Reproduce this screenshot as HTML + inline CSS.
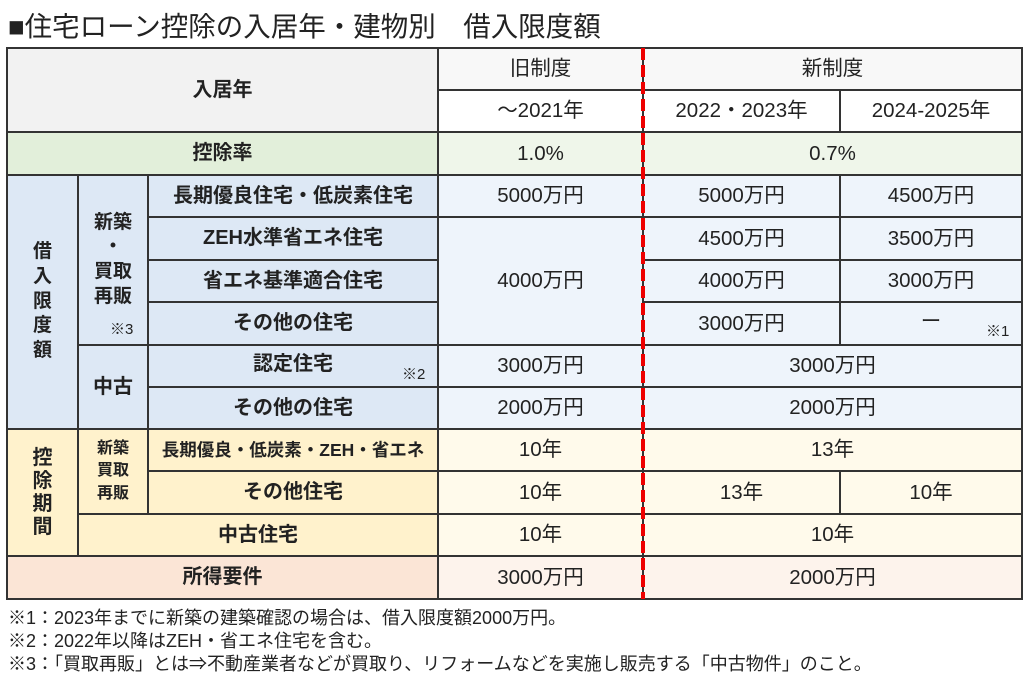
<!DOCTYPE html>
<html><head><meta charset="utf-8"><style>
body{margin:0;width:1024px;height:681px;background:#fff;position:relative;overflow:hidden;font-family:"Liberation Sans","Noto Sans CJK JP",sans-serif;color:#222}
.c{position:absolute;box-sizing:border-box;border:1px solid #333;display:flex;align-items:center;justify-content:center;font-size:20.5px;text-align:center;line-height:1.15}
.b{font-weight:bold;font-size:20px}
.g{background:#f2f2f2}.gr{background:#f8f8f8}
.gn{background:#e2efda}.gnr{background:#eff6ea}
.bl{background:#dde8f5}.blr{background:#eef4fb}
.y{background:#fff2cc}.yr{background:#fffaeb}
.p{background:#fbe5d6}.pr{background:#fdf3ec}
.note{position:absolute;font-size:15px}
.fn{position:absolute;left:8px;font-size:18px;white-space:nowrap}
</style></head><body>
<div style="position:absolute;left:8px;top:4px;font-size:27.5px;white-space:nowrap">■住宅ローン控除の入居年・建物別　借入限度額</div>

<div class="c b g" style="left:7px;top:48px;width:431px;height:84px">入居年</div>
<div class="c gr" style="left:438px;top:48px;width:205px;height:42px">旧制度</div>
<div class="c gr" style="left:643px;top:48px;width:379px;height:42px">新制度</div>
<div class="c" style="left:438px;top:90px;width:205px;height:42px">～2021年</div>
<div class="c" style="left:643px;top:90px;width:197px;height:42px">2022・2023年</div>
<div class="c" style="left:840px;top:90px;width:182px;height:42px">2024-2025年</div>

<div class="c b gn" style="left:7px;top:132px;width:431px;height:43px">控除率</div>
<div class="c gnr" style="left:438px;top:132px;width:205px;height:43px">1.0%</div>
<div class="c gnr" style="left:643px;top:132px;width:379px;height:43px">0.7%</div>

<div class="c b bl" style="left:7px;top:175px;width:71px;height:254px;font-size:19px;line-height:1.3">借<br>入<br>限<br>度<br>額</div>
<div class="c b bl" style="left:78px;top:175px;width:70px;height:170px;line-height:1.3;font-size:19px">新築<br>・<br>買取<br>再販</div>
<div class="note" style="left:110px;top:318px">※3</div>
<div class="c b bl" style="left:148px;top:175px;width:290px;height:42px">長期優良住宅・低炭素住宅</div>
<div class="c b bl" style="left:148px;top:217px;width:290px;height:43px">ZEH水準省エネ住宅</div>
<div class="c b bl" style="left:148px;top:260px;width:290px;height:42px">省エネ基準適合住宅</div>
<div class="c b bl" style="left:148px;top:302px;width:290px;height:43px">その他の住宅</div>
<div class="c b bl" style="left:78px;top:345px;width:70px;height:84px">中古</div>
<div class="c b bl" style="left:148px;top:345px;width:290px;height:42px;padding-bottom:4px">認定住宅</div>
<div class="note" style="left:402px;top:363px">※2</div>
<div class="c b bl" style="left:148px;top:387px;width:290px;height:42px">その他の住宅</div>

<div class="c blr" style="left:438px;top:175px;width:205px;height:42px">5000万円</div>
<div class="c blr" style="left:643px;top:175px;width:197px;height:42px">5000万円</div>
<div class="c blr" style="left:840px;top:175px;width:182px;height:42px">4500万円</div>
<div class="c blr" style="left:438px;top:217px;width:205px;height:128px">4000万円</div>
<div class="c blr" style="left:643px;top:217px;width:197px;height:43px">4500万円</div>
<div class="c blr" style="left:840px;top:217px;width:182px;height:43px">3500万円</div>
<div class="c blr" style="left:643px;top:260px;width:197px;height:42px">4000万円</div>
<div class="c blr" style="left:840px;top:260px;width:182px;height:42px">3000万円</div>
<div class="c blr" style="left:643px;top:302px;width:197px;height:43px">3000万円</div>
<div class="c blr" style="left:840px;top:302px;width:182px;height:43px;padding-bottom:4px">ー</div>
<div class="note" style="left:986px;top:320px">※1</div>
<div class="c blr" style="left:438px;top:345px;width:205px;height:42px">3000万円</div>
<div class="c blr" style="left:643px;top:345px;width:379px;height:42px">3000万円</div>
<div class="c blr" style="left:438px;top:387px;width:205px;height:42px">2000万円</div>
<div class="c blr" style="left:643px;top:387px;width:379px;height:42px">2000万円</div>

<div class="c b y" style="left:7px;top:429px;width:71px;height:127px;font-size:20px;line-height:1.15">控<br>除<br>期<br>間</div>
<div class="c b y" style="left:78px;top:429px;width:70px;height:85px;font-size:16px;line-height:1.4">新築<br>買取<br>再販</div>
<div class="c b y" style="left:148px;top:429px;width:290px;height:42px;font-size:17.5px">長期優良・低炭素・ZEH・省エネ</div>
<div class="c b y" style="left:148px;top:471px;width:290px;height:43px">その他住宅</div>
<div class="c b y" style="left:78px;top:514px;width:360px;height:42px">中古住宅</div>
<div class="c yr" style="left:438px;top:429px;width:205px;height:42px">10年</div>
<div class="c yr" style="left:643px;top:429px;width:379px;height:42px">13年</div>
<div class="c yr" style="left:438px;top:471px;width:205px;height:43px">10年</div>
<div class="c yr" style="left:643px;top:471px;width:197px;height:43px">13年</div>
<div class="c yr" style="left:840px;top:471px;width:182px;height:43px">10年</div>
<div class="c yr" style="left:438px;top:514px;width:205px;height:42px">10年</div>
<div class="c yr" style="left:643px;top:514px;width:379px;height:42px">10年</div>

<div class="c b p" style="left:7px;top:556px;width:431px;height:43px">所得要件</div>
<div class="c pr" style="left:438px;top:556px;width:205px;height:43px">3000万円</div>
<div class="c pr" style="left:643px;top:556px;width:379px;height:43px">2000万円</div>

<div style="position:absolute;left:6px;top:47px;border:2px solid #333;box-sizing:border-box;width:1017px;height:553px"></div>
<div style="position:absolute;left:641px;top:48px;width:4px;height:551px;background:repeating-linear-gradient(to bottom,#e00 0 12px,transparent 12px 17px)"></div>

<div class="fn" style="top:604px">※1：2023年までに新築の建築確認の場合は、借入限度額2000万円。</div>
<div class="fn" style="top:627px">※2：2022年以降はZEH・省エネ住宅を含む。</div>
<div class="fn" style="top:650px">※3：「買取再販」とは⇒不動産業者などが買取り、リフォームなどを実施し販売する「中古物件」のこと。</div>
</body></html>
